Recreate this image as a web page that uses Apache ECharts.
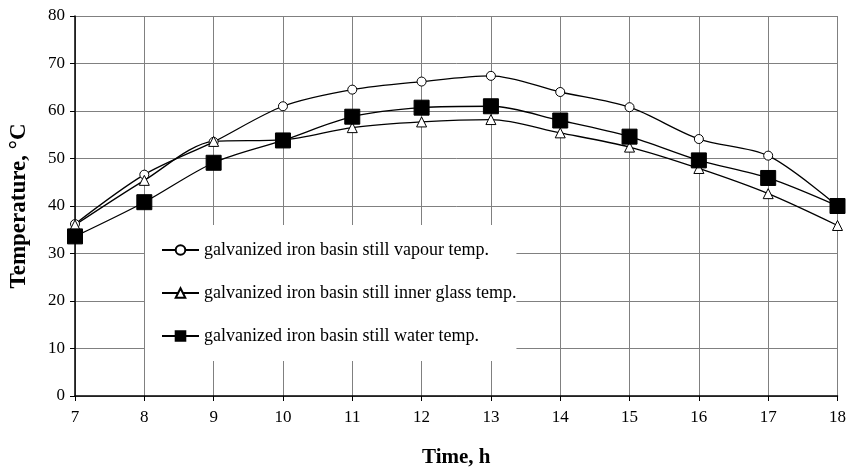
<!DOCTYPE html>
<html>
<head>
<meta charset="utf-8">
<script src="https://cdn.jsdelivr.net/npm/echarts@6/dist/echarts.min.js"></script>
<style>
  html, body { margin: 0; padding: 0; background: #fff; }
  #main { width: 849px; height: 473px; }
</style>
</head>
<body>
<div id="main"></div>
<script>
// hours of the day
const hours = [7, 8, 9, 10, 11, 12, 13, 14, 15, 16, 17, 18];

// temperatures, °C
const vapourTemp = [36.2, 46.6, 53.5, 61.0, 64.5, 66.2, 67.4, 64.0, 60.8, 54.1, 50.6, 40.0];
const glassTemp = [36.0, 45.4, 53.6, 53.9, 56.5, 57.7, 58.2, 55.4, 52.4, 47.9, 42.6, 35.9];
const waterTemp = [33.6, 40.8, 49.1, 53.8, 58.8, 60.7, 61.0, 58.0, 54.6, 49.6, 45.9, 40.0];

const seriesNames = [
    'galvanized iron basin still vapour temp.',
    'galvanized iron basin still inner glass temp.',
    'galvanized iron basin still water temp.'
];

const font = 'Liberation Serif';

function pairs(vals) {
    return hours.map((h, i) => [h, vals[i]]);
}

function makeSeries(name, vals, symbol, size, fill) {
    return {
        name: name,
        type: 'line',
        data: pairs(vals),
        smooth: 0.3,
        symbol: symbol,
        symbolSize: size,
        showAllSymbol: true,
        lineStyle: { color: '#000', width: 1.3 },
        itemStyle: { color: fill, borderColor: '#000', borderWidth: 1 },
        emphasis: { disabled: true },
        animation: false
    };
}

const chart = echarts.init(document.getElementById('main'));
chart.setOption({
    backgroundColor: '#fff',
    textStyle: { fontFamily: font },
    grid: { left: 75, right: 11, top: 16, bottom: 75 },
    legend: {
        orient: 'vertical',
        left: 145,
        top: 225,
        padding: [16, 0, 16, 16],
        backgroundColor: '#fff',
        itemWidth: 37,
        itemHeight: 12,
        itemGap: 25,
        textStyle: { fontFamily: font, fontSize: 18, color: '#000' },
        data: seriesNames
    },
    xAxis: {
        type: 'value',
        min: 7,
        max: 18,
        interval: 1,
        name: 'Time, h',
        nameLocation: 'middle',
        nameGap: 51,
        nameTextStyle: { fontFamily: font, fontSize: 21, fontWeight: 'bold', color: '#000' },
        axisLine: { show: true, lineStyle: { color: '#000', width: 1.5 } },
        axisTick: { show: true, length: 5, lineStyle: { color: '#000' } },
        axisLabel: { fontFamily: font, fontSize: 17, color: '#000', margin: 13 },
        splitLine: { show: true, lineStyle: { color: '#808080', width: 1 } }
    },
    yAxis: {
        type: 'value',
        min: 0,
        max: 80,
        interval: 10,
        name: 'Temperature, °C',
        nameLocation: 'middle',
        nameGap: 44,
        nameTextStyle: { fontFamily: font, fontSize: 23, fontWeight: 'bold', color: '#000' },
        axisLine: { show: true, lineStyle: { color: '#000', width: 1.5 } },
        axisTick: { show: true, length: 5, lineStyle: { color: '#000' } },
        axisLabel: { fontFamily: font, fontSize: 17, color: '#000', margin: 10 },
        splitLine: { show: true, lineStyle: { color: '#808080', width: 1 } }
    },
    series: [
        makeSeries(seriesNames[0], vapourTemp, 'circle', 9, '#fff'),
        makeSeries(seriesNames[1], glassTemp, 'triangle', 10, '#fff'),
        makeSeries(seriesNames[2], waterTemp, 'rect', 15, '#000')
    ]
});
</script>
</body>
</html>
